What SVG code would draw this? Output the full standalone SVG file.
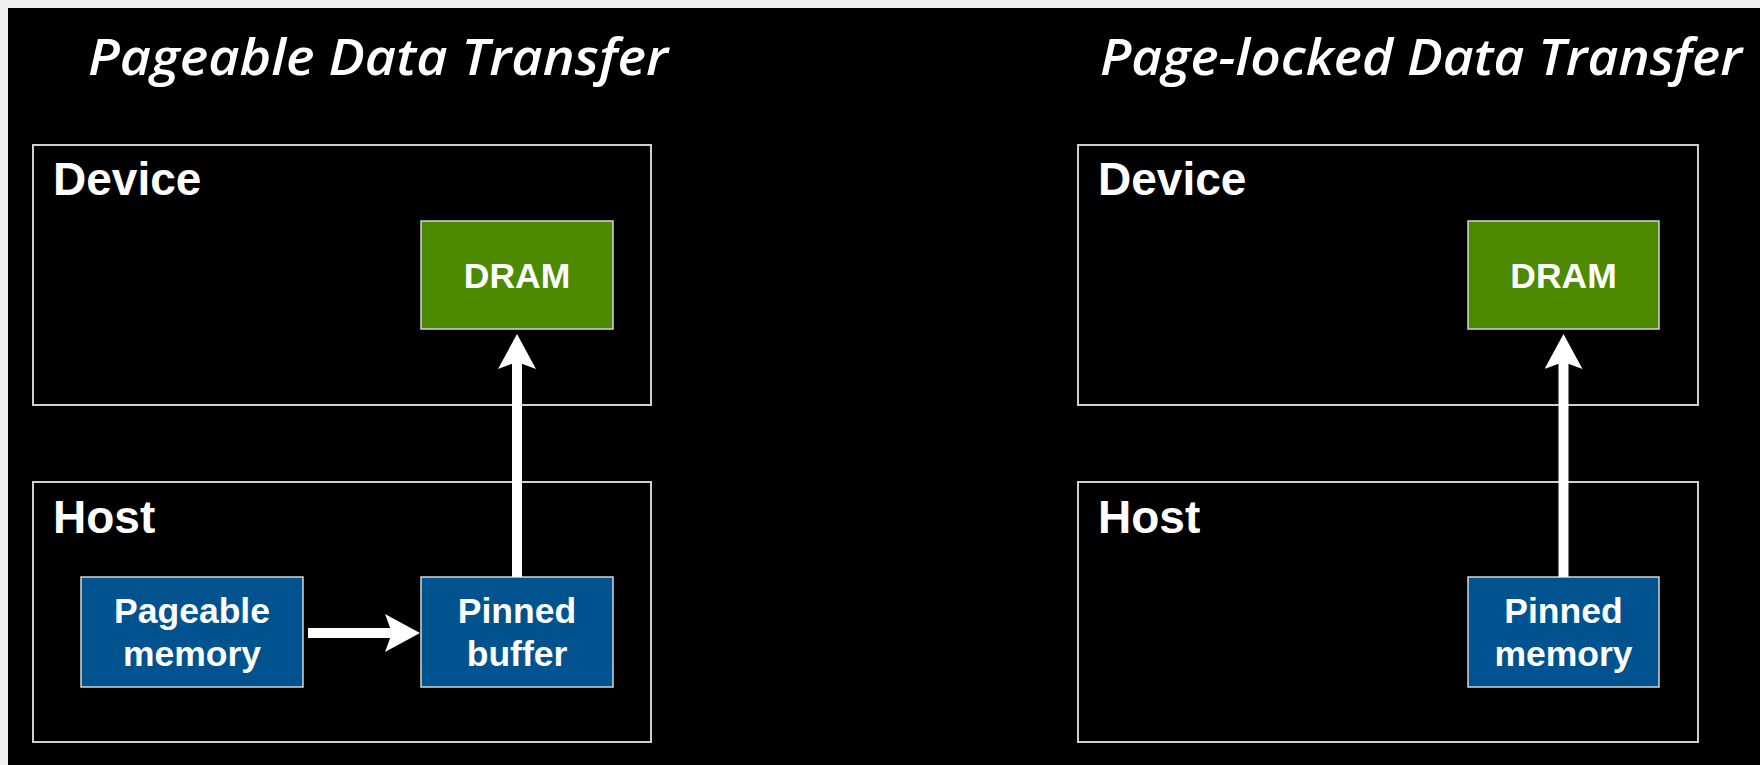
<svg xmlns="http://www.w3.org/2000/svg" width="1760" height="765" viewBox="0 0 1760 765">
  <style>
    .title { font-family: "Open Sans", "DejaVu Sans", sans-serif; font-style: italic; font-weight: 600; font-size: 50px; fill: #ffffff; }
    .group { fill: none; stroke: #cfcfcf; stroke-width: 2; }
    .glabel { font-family: "Liberation Sans", Arial, sans-serif; font-weight: bold; font-size: 46px; fill: #ffffff; }
    .green { fill: #4d8a00; stroke: #d6d6d6; stroke-width: 1.5; }
    .blue { fill: #00538e; stroke: #d6d6d6; stroke-width: 1.5; }
    .nlabel { font-family: "Liberation Sans", Arial, sans-serif; font-weight: bold; font-size: 35.5px; fill: #ffffff; text-anchor: middle; }
    .conn { stroke: #ffffff; stroke-width: 10; fill: none; marker-end: url(#head); }
  </style>
  <defs>
    <marker id="head" viewBox="0 0 35 38" markerWidth="35" markerHeight="38" refX="7" refY="19" orient="auto" markerUnits="userSpaceOnUse">
      <path d="M0,0 L35,19 L0,38 L7,19 Z" fill="#ffffff"/>
    </marker>
  </defs>
  <rect x="0" y="0" width="1760" height="765" fill="#f0f0f0"/>
  <rect x="8" y="8" width="1752" height="757" fill="#000000"/>

  <text class="title" x="88" y="75" textLength="580" lengthAdjust="spacingAndGlyphs">Pageable Data Transfer</text>
  <text class="title" x="1100" y="75" textLength="642" lengthAdjust="spacingAndGlyphs">Page-locked Data Transfer</text>

  <g id="left-device">
    <rect class="group" x="33" y="145" width="618" height="260"/>
    <text class="glabel" x="53" y="195">Device</text>
  </g>
  <g id="left-host">
    <rect class="group" x="33" y="482" width="618" height="260"/>
    <text class="glabel" x="53" y="533">Host</text>
  </g>
  <g id="left-dram">
    <rect class="green" x="421" y="221" width="192" height="108"/>
    <text class="nlabel" x="517" y="288">DRAM</text>
  </g>
  <g id="left-pageable">
    <rect class="blue" x="81" y="577" width="222" height="110"/>
    <text class="nlabel" x="192" y="623">Pageable</text>
    <text class="nlabel" x="192" y="666">memory</text>
  </g>
  <g id="left-pinned">
    <rect class="blue" x="421" y="577" width="192" height="110"/>
    <text class="nlabel" x="517" y="623">Pinned</text>
    <text class="nlabel" x="517" y="666">buffer</text>
  </g>

  <g id="right-device">
    <rect class="group" x="1078" y="145" width="620" height="260"/>
    <text class="glabel" x="1098" y="195">Device</text>
  </g>
  <g id="right-host">
    <rect class="group" x="1078" y="482" width="620" height="260"/>
    <text class="glabel" x="1098" y="533">Host</text>
  </g>
  <g id="right-dram">
    <rect class="green" x="1468" y="221" width="191" height="108"/>
    <text class="nlabel" x="1563.5" y="288">DRAM</text>
  </g>
  <g id="right-pinned">
    <rect class="blue" x="1468" y="577" width="191" height="110"/>
    <text class="nlabel" x="1563.5" y="623">Pinned</text>
    <text class="nlabel" x="1563.5" y="666">memory</text>
  </g>

  <g id="connectors">
    <line class="conn" x1="308" y1="633" x2="392" y2="633"/>
    <line class="conn" x1="517" y1="577" x2="517" y2="362"/>
    <line class="conn" x1="1563.5" y1="577" x2="1563.5" y2="362"/>
  </g>
</svg>
